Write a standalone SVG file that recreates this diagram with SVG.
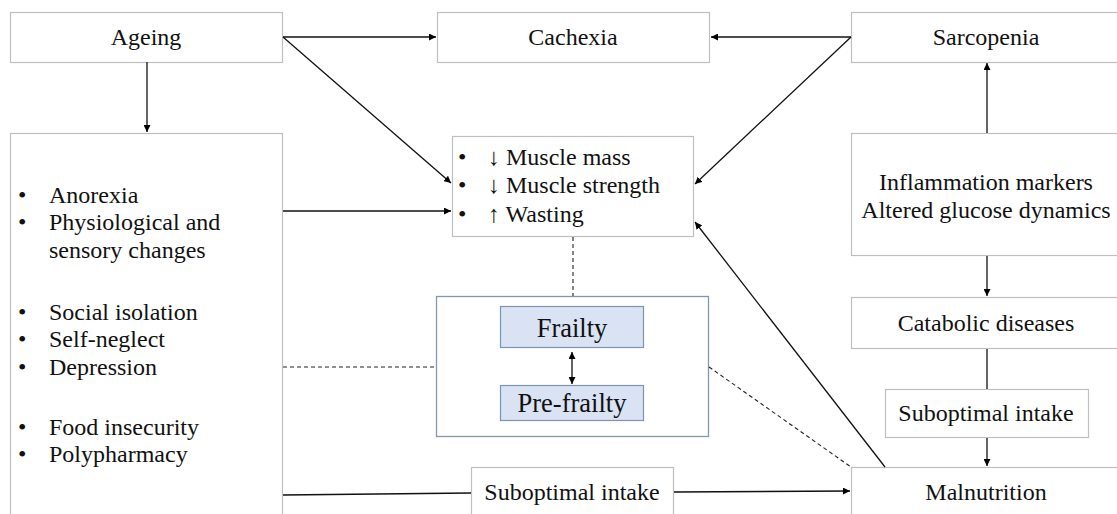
<svg xmlns="http://www.w3.org/2000/svg" width="1117" height="514" viewBox="0 0 1117 514">
  <defs>
    <marker id="arrow" viewBox="0 0 10 10" refX="10" refY="5" markerWidth="7" markerHeight="7" markerUnits="userSpaceOnUse" orient="auto">
      <path d="M0,0 L10,5 L0,10 z" fill="#000"/>
    </marker>
    <marker id="arrow-start" viewBox="0 0 10 10" refX="0" refY="5" markerWidth="7" markerHeight="7" markerUnits="userSpaceOnUse" orient="auto">
      <path d="M10,0 L0,5 L10,10 z" fill="#000"/>
    </marker>
    <style>
      .box { fill: #fff; stroke: #bfbfbf; stroke-width: 1.2; }
      .group { fill: #fff; stroke: #8497b0; stroke-width: 1.3; }
      .state { fill: #dae3f3; stroke: #7f93b3; stroke-width: 1.2; }
      .t { font-family: "Liberation Serif", "Times New Roman", "DejaVu Serif", serif; font-size: 24px; fill: #111; }
      .c { text-anchor: middle; }
      .big { font-size: 26.5px; }
      .edge { fill: none; stroke: #111; stroke-width: 1.3; }
      .arr { marker-end: url(#arrow); }
      .dash { fill: none; stroke: #222; stroke-width: 1.1; stroke-dasharray: 4 3; }
    </style>
  </defs>

  <rect width="1117" height="514" fill="#fff"/>

  <!-- nodes -->
  <g id="ageing">
    <rect class="box" x="10.5" y="12.5" width="272" height="50"/>
    <text class="t c" x="146" y="45">Ageing</text>
  </g>

  <g id="cachexia">
    <rect class="box" x="437.5" y="12.5" width="272" height="50"/>
    <text class="t c" x="573" y="45">Cachexia</text>
  </g>

  <g id="sarcopenia">
    <rect class="box" x="851.5" y="12.5" width="280" height="50"/>
    <text class="t c" x="986" y="45">Sarcopenia</text>
  </g>

  <g id="risk-factors">
    <rect class="box" x="10.5" y="133.5" width="272" height="400"/>
    <g class="t">
      <text x="18" y="203">•</text><text x="49" y="203">Anorexia</text>
      <text x="18" y="230">•</text><text x="49" y="230">Physiological and</text>
      <text x="49" y="258">sensory changes</text>
      <text x="18" y="320">•</text><text x="49" y="320">Social isolation</text>
      <text x="18" y="347">•</text><text x="49" y="347">Self-neglect</text>
      <text x="18" y="375">•</text><text x="49" y="375">Depression</text>
      <text x="18" y="435">•</text><text x="49" y="435">Food insecurity</text>
      <text x="18" y="462">•</text><text x="49" y="462">Polypharmacy</text>
    </g>
  </g>

  <g id="muscle">
    <rect class="box" x="452.5" y="136.5" width="241" height="100"/>
    <g class="t">
      <text x="458" y="165">•</text><text x="488" y="165">&#x2193;&#xFE0E; Muscle mass</text>
      <text x="458" y="193">•</text><text x="488" y="193">&#x2193;&#xFE0E; Muscle strength</text>
      <text x="458" y="222">•</text><text x="488" y="222">&#x2191;&#xFE0E; Wasting</text>
    </g>
  </g>

  <g id="inflammation">
    <rect class="box" x="851.5" y="133.5" width="280" height="122"/>
    <text class="t c" x="986" y="190">Inflammation markers</text>
    <text class="t c" x="986" y="218">Altered glucose dynamics</text>
  </g>

  <g id="catabolic">
    <rect class="box" x="851.5" y="297.5" width="280" height="51"/>
    <text class="t c" x="986" y="331">Catabolic diseases</text>
  </g>

  <g id="intake-right">
    <rect class="box" x="885.5" y="389.5" width="203" height="48"/>
    <text class="t c" x="986" y="421">Suboptimal intake</text>
  </g>

  <g id="malnutrition">
    <rect class="box" x="851.5" y="467.5" width="280" height="60"/>
    <text class="t c" x="986" y="500">Malnutrition</text>
  </g>

  <g id="intake-bottom">
    <rect class="box" x="471.5" y="467.5" width="202" height="60"/>
    <text class="t c" x="572" y="500">Suboptimal intake</text>
  </g>

  <g id="frailty-spectrum">
    <rect class="group" x="436.5" y="296.5" width="272" height="140"/>
    <g id="frailty">
      <rect class="state" x="500.5" y="306.5" width="143" height="41"/>
      <text class="t c big" x="572" y="337">Frailty</text>
    </g>
    <g id="pre-frailty">
      <rect class="state" x="500.5" y="385.5" width="143" height="35"/>
      <text class="t c big" x="572" y="412">Pre-frailty</text>
    </g>
  </g>

  <!-- connectors -->
  <g id="connectors">
    <line class="edge arr" x1="283" y1="37" x2="436" y2="37"/>
    <line class="edge arr" x1="851" y1="37" x2="711" y2="37"/>
    <line class="edge arr" x1="283" y1="37" x2="451" y2="183"/>
    <line class="edge arr" x1="851" y1="37" x2="695" y2="184"/>
    <line class="edge arr" x1="147" y1="62" x2="147" y2="132"/>
    <line class="edge arr" x1="283" y1="211" x2="451" y2="211"/>
    <line class="edge arr" x1="885" y1="467" x2="695" y2="222"/>
    <line class="edge arr" x1="987" y1="133" x2="987" y2="63"/>
    <line class="edge arr" x1="987" y1="256" x2="987" y2="296"/>
    <line class="edge" x1="987" y1="349" x2="987" y2="389"/>
    <line class="edge arr" x1="987" y1="438" x2="987" y2="466"/>
    <line class="edge" x1="283" y1="495" x2="471" y2="493"/>
    <line class="edge arr" x1="674" y1="492" x2="850" y2="491"/>
    <line class="edge arr" x1="572" y1="352" x2="572" y2="384" marker-start="url(#arrow-start)"/>
    <line class="dash" x1="573" y1="237" x2="573" y2="296"/>
    <line class="dash" x1="283" y1="367" x2="436" y2="367"/>
    <line class="dash" x1="709" y1="367" x2="851" y2="467"/>
  </g>
</svg>
